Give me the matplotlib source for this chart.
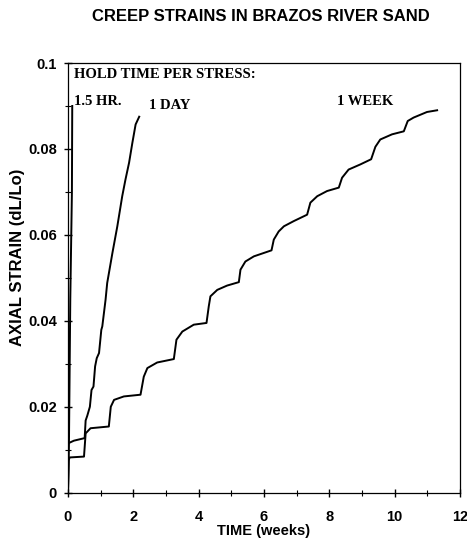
import numpy as np
import matplotlib.pyplot as plt
from matplotlib.ticker import MultipleLocator, FuncFormatter

plt.rcParams['font.family'] = ['Liberation Sans', 'DejaVu Sans']

# 1.5 hour hold per stress
hr_t = [0.0, 0.03, 0.07, 0.12, 0.13]
hr_eps = [0.0, 0.012, 0.045, 0.070, 0.090]

# 1 day hold per stress
day_t = [0.0, 0.01, 0.18, 0.51, 0.54, 0.59, 0.67, 0.72, 0.78, 0.83, 0.88, 0.95,
         0.98, 1.02, 1.05, 1.15, 1.20, 1.36, 1.51, 1.66, 1.76, 1.87, 1.97, 2.07, 2.18]
day_eps = [0.0, 0.0115, 0.0121, 0.0127, 0.0168, 0.0179, 0.0200, 0.0239, 0.0247,
           0.0294, 0.0313, 0.0325, 0.0348, 0.0379, 0.0387, 0.0449, 0.0488, 0.0558,
           0.0620, 0.0690, 0.0729, 0.0768, 0.0814, 0.0857, 0.0875]

# 1 week hold per stress
week_t = [0.0, 0.02, 0.05, 0.49, 0.54, 0.69, 1.25, 1.31, 1.41, 1.71, 2.22,
          2.32, 2.43, 2.73, 3.24, 3.32, 3.50, 3.85, 4.24, 4.31, 4.36, 4.57, 4.87,
          5.23, 5.28, 5.43, 5.69, 6.23, 6.30, 6.45, 6.61, 6.91, 7.32, 7.42, 7.63,
          7.93, 8.29, 8.39, 8.59, 8.95, 9.28, 9.41, 9.56, 9.92, 10.28, 10.40,
          10.58, 10.99, 11.30]
week_eps = [0.0, 0.0075, 0.0082, 0.0084, 0.0138, 0.0150, 0.0154, 0.0200, 0.0216,
            0.0224, 0.0228, 0.0270, 0.0290, 0.0303, 0.0311, 0.0356, 0.0375,
            0.0391, 0.0395, 0.0434, 0.0457, 0.0472, 0.0482, 0.0490, 0.0519,
            0.0538, 0.0550, 0.0564, 0.0589, 0.0608, 0.0620, 0.0632, 0.0647,
            0.0675, 0.0690, 0.0702, 0.0710, 0.0733, 0.0752, 0.0764, 0.0776,
            0.0805, 0.0822, 0.0834, 0.0841, 0.0865, 0.0873, 0.0886, 0.0890]

fig = plt.figure(figsize=(4.67, 5.45), dpi=100)
ax = fig.add_axes([0.1456, 0.096, 0.8394, 0.7884])

for t, e in [(hr_t, hr_eps), (day_t, day_eps), (week_t, week_eps)]:
    ax.plot(t, e, color='black', lw=1.4)

ax.set_xlim(0, 12)
ax.set_ylim(0, 0.1)
ax.xaxis.set_major_locator(MultipleLocator(2))
ax.xaxis.set_minor_locator(MultipleLocator(1))
ax.yaxis.set_major_locator(MultipleLocator(0.02))
ax.yaxis.set_minor_locator(MultipleLocator(0.01))
ax.yaxis.set_major_formatter(FuncFormatter(lambda v, p: '%g' % round(v, 3)))
ax.tick_params(which='major', direction='inout', length=6, width=1.0,
               labelsize=10.5)
ax.tick_params(which='minor', direction='inout', length=4, width=0.8)
ax.tick_params(axis='x', which='major', pad=9.5)
ax.tick_params(axis='y', which='major', pad=5)
for lab in ax.get_xticklabels() + ax.get_yticklabels():
    lab.set_fontweight('bold')
for s in ax.spines.values():
    s.set_linewidth(0.9)

ax.set_xlabel('TIME (weeks)', fontsize=10.5, fontweight='bold', labelpad=0)
ax.set_ylabel('AXIAL STRAIN (dL/Lo)', fontsize=12, fontweight='bold')
ax.yaxis.set_label_coords(-0.11, 0.547)

fig.text(0.558, 0.969, 'CREEP STRAINS IN BRAZOS RIVER SAND', fontsize=12,
         fontweight='bold', ha='center', va='center')

serif = ['Liberation Serif', 'DejaVu Serif']
ax.text(0.18, 0.0974, 'HOLD TIME PER STRESS:', family=serif, fontweight='bold',
        fontsize=10.5, va='center')
ax.text(0.17, 0.0910, '1.5 HR.', family=serif, fontweight='bold', fontsize=10.5,
        va='center')
ax.text(2.47, 0.0901, '1 DAY', family=serif, fontweight='bold', fontsize=10.5,
        va='center')
ax.text(8.25, 0.0910, '1 WEEK', family=serif, fontweight='bold', fontsize=10.5,
        va='center')

fig.savefig('out.png', dpi=100)
